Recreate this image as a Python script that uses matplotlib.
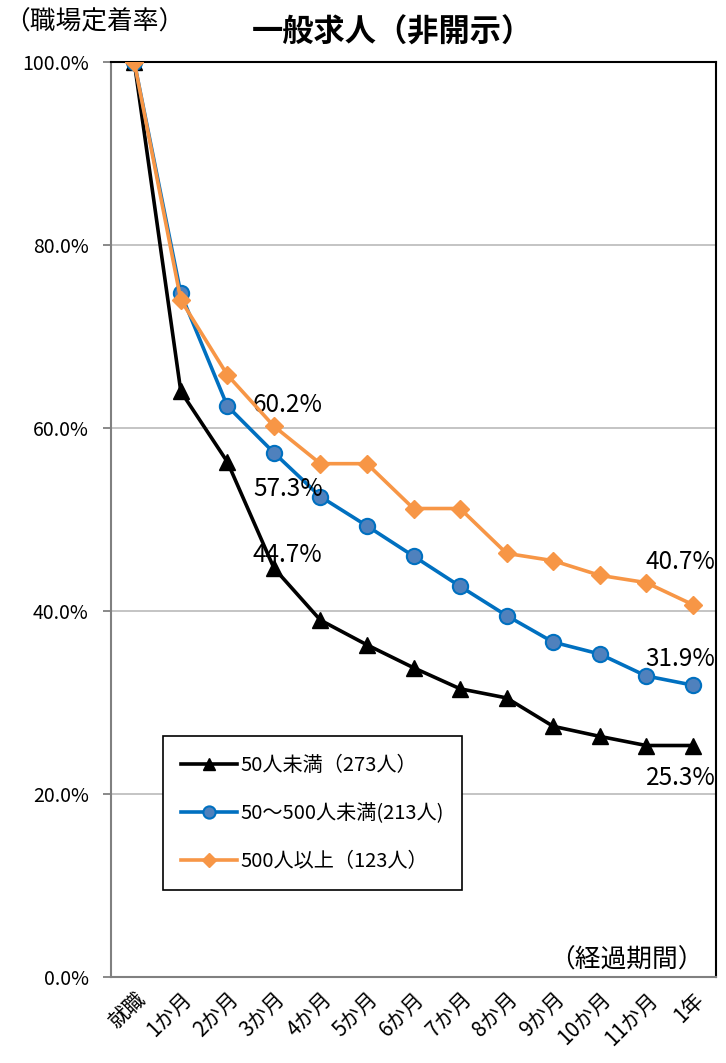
import matplotlib
matplotlib.use("Agg")
import matplotlib.pyplot as plt

plt.rcParams['font.family'] = ['Noto Sans CJK JP', 'DejaVu Sans']

categories = ["就職", "1か月", "2か月", "3か月", "4か月", "5か月", "6か月",
              "7か月", "8か月", "9か月", "10か月", "11か月", "1年"]
small = [100.0, 64.0, 56.3, 44.7, 39.0, 36.3, 33.8, 31.5, 30.5, 27.4, 26.3, 25.3, 25.3]
medium = [100.0, 74.7, 62.4, 57.3, 52.5, 49.3, 46.0, 42.7, 39.5, 36.6, 35.3, 32.9, 31.9]
large = [100.0, 74.0, 65.8, 60.2, 56.1, 56.1, 51.2, 51.2, 46.3, 45.5, 43.9, 43.1, 40.7]
series_names = ["50人未満（273人）", "50〜500人未満(213人)", "500人以上（123人）"]
yticks = [0, 20, 40, 60, 80, 100]

fig = plt.figure(figsize=(7.26, 10.63), dpi=100)
ax = fig.add_axes([111/726, 86/1063, 605/726, 915/1063])

x = list(range(len(categories)))
ax.plot(x, small, color='black', lw=2.6, marker='^', ms=11, mfc='black', mec='black',
        label=series_names[0], zorder=3)
ax.plot(x, medium, color='#0070C0', lw=2.6, marker='o', ms=11, mfc='#4F81BD', mec='#0070C0',
        mew=1.5, label=series_names[1], zorder=3)
ax.plot(x, large, color='#F79646', lw=2.6, marker='D', ms=9, mfc='#F79646', mec='#F79646',
        label=series_names[2], zorder=4)

ax.set_xlim(-0.5, len(categories) - 0.5)
ax.set_ylim(0, 100)
ax.set_yticks(yticks)
ax.set_yticklabels([f"{v:.1f}%" for v in yticks], fontsize=14)
ax.yaxis.grid(True, color='#BFBFBF', lw=1.3)
ax.set_axisbelow(True)
ax.tick_params(axis='y', length=6, color='#808080', width=1.3, pad=10)

ax.set_xticks(x)
ax.set_xticklabels(categories, rotation=45, ha='right', rotation_mode='anchor', fontsize=15)
ax.tick_params(axis='x', length=0, pad=8)

for s in ['left', 'bottom']:
    ax.spines[s].set_color('#808080')
    ax.spines[s].set_linewidth(1.5)
for s in ['top', 'right']:
    ax.spines[s].set_color('black')
    ax.spines[s].set_linewidth(1.5)

# data labels
lab_fs = 17.5
ax.text(3.3, large[3] + 2.3, f"{large[3]:.1f}%", fontsize=lab_fs, ha='center', va='center')
ax.text(3.3, medium[3] - 4.0, f"{medium[3]:.1f}%", fontsize=lab_fs, ha='center', va='center')
ax.text(3.3, small[3] + 1.4, f"{small[3]:.1f}%", fontsize=lab_fs, ha='center', va='center')
ax.text(11.74, large[12] + 4.7, f"{large[12]:.1f}%", fontsize=lab_fs, ha='center', va='center')
ax.text(11.74, medium[12] + 2.8, f"{medium[12]:.1f}%", fontsize=lab_fs, ha='center', va='center')
ax.text(11.74, small[12] - 3.6, f"{small[12]:.1f}%", fontsize=lab_fs, ha='center', va='center')

ax.text(0.98, 0.004, "（経過期間）", transform=ax.transAxes, fontsize=18.5,
        ha='right', va='bottom')

leg = ax.legend(loc='lower left', bbox_to_anchor=(0.086, 0.095), fontsize=14.5,
                frameon=True, fancybox=False, edgecolor='black', framealpha=1,
                labelspacing=1.35, handlelength=2.75, borderpad=0.9, handletextpad=0.2,
                borderaxespad=0, markerscale=0.8)
leg.get_frame().set_linewidth(1.2)

fig.text(0.006, 0.979, "（職場定着率）", fontsize=18.5, ha='left', va='center')
fig.text(0.541, 0.969, "一般求人（非開示）", fontsize=22.5, fontweight='bold',
         ha='center', va='center')

fig.savefig("out.png", dpi=100)
